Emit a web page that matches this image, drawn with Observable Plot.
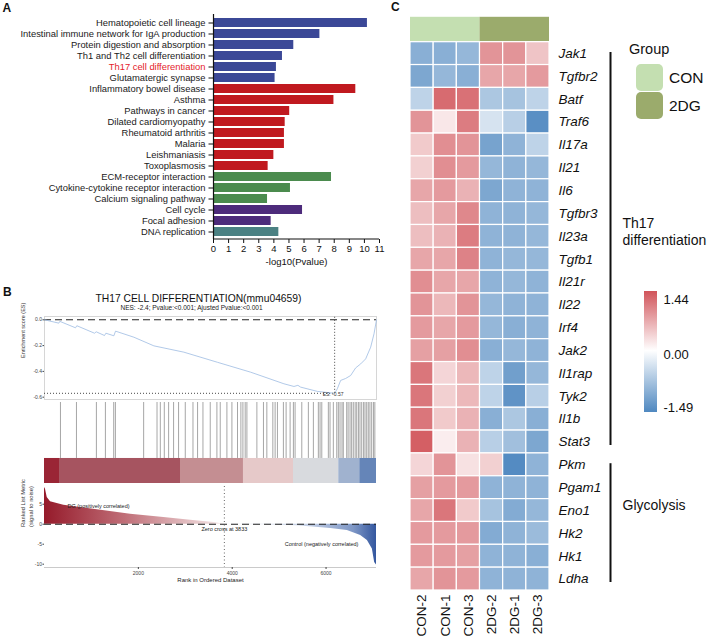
<!DOCTYPE html>
<html><head><meta charset="utf-8">
<script src="https://cdn.jsdelivr.net/npm/d3@7"></script>
<script src="https://cdn.jsdelivr.net/npm/@observablehq/plot@0.6"></script>
<style>
body{margin:0;background:#fff;}
#root{position:relative;width:708px;height:640px;overflow:hidden;background:#fff;font-family:"Liberation Sans",Arial,sans-serif;color:#111;}
</style></head><body><div id="root"></div>
<script>
// ================= DATA =================
// Panel A: KEGG enrichment
const pathways = ["Hematopoietic cell lineage","Intestinal immune network for IgA production","Protein digestion and absorption","Th1 and Th2 cell differentiation","Th17 cell differentiation","Glutamatergic synapse","Inflammatory bowel disease","Asthma","Pathways in cancer","Dilated cardiomyopathy","Rheumatoid arthritis","Malaria","Leishmaniasis","Toxoplasmosis","ECM-receptor interaction","Cytokine-cytokine receptor interaction","Calcium signaling pathway","Cell cycle","Focal adhesion","DNA replication"];
const pathwayLogP = [10.2,7.05,5.32,4.57,4.17,4.08,9.43,7.98,5.05,4.75,4.7,4.7,4.0,3.62,7.82,5.1,3.58,5.9,3.82,4.33];
const pathwayClass = ["c1","c1","c1","c1","c1","c1","c2","c2","c2","c2","c2","c2","c2","c2","c3","c3","c3","c4","c4","c5"];
const classNames = ["c1","c2","c3","c4","c5"];
const classColors = ["#3b4897","#c0191f","#4b8b4e","#4d2b7b","#4b8183"];
const highlightPathway = "Th17 cell differentiation";
const ticksA = [0,1,2,3,4,5,6,7,8,9,10,11];

// Panel B: GSEA
const gseaTitle = "TH17 CELL DIFFERENTIATION(mmu04659)";
const gseaSubtitle = "NES: -2.4; Pvalue:<0.001; Ajusted Pvalue:<0.001";
const nRanks = 7075;
const esRank  = [0,305,326,661,689,1066,1102,1279,1308,1478,1514,1905,2331,2970,3682,4392,5102,5316,5400,5458,5814,6183,6240,6311,6418,6524,6631,6738,6844,6951,7022,7075];
const esValue = [0,-0.026,-0.012,-0.062,-0.046,-0.104,-0.093,-0.122,-0.104,-0.124,-0.088,-0.135,-0.202,-0.251,-0.329,-0.406,-0.496,-0.517,-0.508,-0.522,-0.555,-0.57,-0.535,-0.47,-0.455,-0.432,-0.373,-0.342,-0.303,-0.212,-0.109,0];
const esMin = -0.57, esMinRank = 6183;
const esTicks = [0,-0.2,-0.4,-0.6];
const hitRanks = [340,681,1106,1298,1475,1511,2113,2398,2468,2553,2645,2751,2857,3000,3164,3262,3377,3532,3674,3745,3887,3994,4113,4185,4228,4277,4313,4526,4666,4738,4866,4915,4964,5091,5149,5234,5304,5340,5483,5623,5730,5836,5872,5909,6049,6085,6155,6228,6262,6298,6340,6368,6440,6470,6511,6545,6581,6620,6653,6690,6723,6760,6800,6830,6866,6900,6935,6972,7010,7040];
const bandStart = [0,320,2898,4240,5306,6271,6719];
const bandEnd   = [320,2898,4240,5306,6271,6719,7075];
const bandColors = ["#9a2535","#a65460","#c48e92","#e6c9c9","#d8dade","#a0b2cf","#6585b8"];
const metricRank  = [0,21,58,128,411,768,1124,1834,2543,3113,3610,3833,4676,5388,6098,6454,6738,6881,6987,7036,7075];
const metricValue = [9.2,8.75,6.7,5.6,4.75,4.2,3.6,2.5,1.7,1.0,0.4,0,-0.15,-0.4,-1.1,-1.6,-2.8,-4.1,-6.2,-9.6,-10.2];
const zeroCross = 3833;
const rankTicks = [2000,4000,6000];
const metricTicks = [5,0,-5,-10];

// Panel C: heatmap
const samples = ["CON-2","CON-1","CON-3","2DG-2","2DG-1","2DG-3"];
const sampleGroup = ["CON","CON","CON","2DG","2DG","2DG"];
const groupNames = ["CON","2DG"];
const groupColors = ["#c4dfb1","#9bab6c"];
const genes = ["Jak1","Tgfbr2","Batf","Traf6","Il17a","Il21","Il6","Tgfbr3","Il23a","Tgfb1","Il21r","Il22","Irf4","Jak2","Il1rap","Tyk2","Il1b","Stat3","Pkm","Pgam1","Eno1","Hk2","Hk1","Ldha"];
const geneSet = ["Th17\ndifferentiation","Th17\ndifferentiation","Th17\ndifferentiation","Th17\ndifferentiation","Th17\ndifferentiation","Th17\ndifferentiation","Th17\ndifferentiation","Th17\ndifferentiation","Th17\ndifferentiation","Th17\ndifferentiation","Th17\ndifferentiation","Th17\ndifferentiation","Th17\ndifferentiation","Th17\ndifferentiation","Th17\ndifferentiation","Th17\ndifferentiation","Th17\ndifferentiation","Th17\ndifferentiation","Glycolysis","Glycolysis","Glycolysis","Glycolysis","Glycolysis","Glycolysis"];
const expr = [
  [-1.0,-1.0,-0.9, 0.9, 0.9, 0.5],
  [-1.1,-0.9,-1.0, 0.75,0.75,0.85],
  [-0.55,1.25,1.2,-0.7,-0.75,-0.55],
  [0.9, 0.2, 1.1,-0.35,-0.6,-1.4],
  [0.45,0.95,0.9,-1.15,-0.95,-0.55],
  [0.4, 0.95,0.85,-0.9,-0.95,-0.9],
  [0.75,0.85,0.65,-1.1,-0.95,-0.95],
  [0.55,0.75,1.0,-0.95,-0.95,-0.9],
  [0.55,0.65,1.1,-0.95,-0.95,-0.9],
  [0.75,0.75,1.05,-0.95,-0.9,-0.9],
  [0.95,0.75,0.75,-0.95,-0.9,-0.95],
  [0.9, 0.6, 0.9,-0.9,-0.95,-0.95],
  [0.85,0.75,0.85,-0.9,-1.0,-0.95],
  [0.8, 0.8, 0.95,-1.0,-0.9,-0.95],
  [1.15,0.35,0.6,-0.55,-1.2,-0.9],
  [1.15,0.4, 0.6,-0.55,-1.35,-0.6],
  [1.15,0.45,0.65,-1.0,-0.7,-1.0],
  [1.35,0.15,0.65,-0.6,-0.8,-1.1],
  [0.35,0.9, 0.25,0.4,-1.45,-0.95],
  [0.8, 0.85,0.85,-0.95,-0.95,-0.95],
  [0.75,1.15,0.45,-0.75,-1.05,-0.9],
  [0.85,0.85,0.85,-1.05,-0.95,-0.85],
  [0.85,0.85,0.8,-0.95,-0.95,-1.0],
  [0.75,0.9, 0.85,-0.95,-0.95,-0.95]
];
const colorDomain = [-1.49, 0, 1.44];
const colorRange = ["#4f88c0","#ffffff","#d1545a"];
const legendLabels = ["1.44","0.00","-1.49"];

// ================= HELPERS =================
const FONT = '"Liberation Sans", Arial, Helvetica, sans-serif';
const NS = "http://www.w3.org/2000/svg";
const root = document.getElementById("root");
function el(tag, attrs, text) {
  const e = document.createElementNS(NS, tag);
  for (const k in attrs) e.setAttribute(k, attrs[k]);
  if (text != null) e.textContent = text;
  return e;
}
function place(node, left, top) {
  node.style.position = "absolute"; node.style.left = left + "px"; node.style.top = top + "px";
  root.appendChild(node);
}
function label(text, left, top, css) {
  const d = document.createElement("div");
  d.textContent = text;
  d.style.cssText = `position:absolute;left:${left}px;top:${top}px;white-space:nowrap;line-height:1;font-family:${FONT};` + css;
  root.appendChild(d);
}
const baseStyle = {fontFamily: FONT, background: "transparent", overflow: "visible", color: "#111"};

// ================= PANEL A =================
const aData = pathways.map((name, i) => ({name, v: pathwayLogP[i], fill: classColors[classNames.indexOf(pathwayClass[i])]}));
const plotA = Plot.plot({
  width: 390, height: 270, marginLeft: 213, marginRight: 11, marginTop: 14, marginBottom: 31,
  style: baseStyle,
  x: {domain: [0, 11]},
  y: {domain: pathways, range: [17.6, 235.3], paddingInner: 0.22, paddingOuter: 0},
  color: {type: "identity"},
  marks: [
    Plot.barX(aData, {x: "v", y: "name", fill: "fill"}),
    Plot.ruleX([0], {stroke: "#111", strokeWidth: 1.2}),
    Plot.axisY({tickSize: 4.5, tickFormat: () => "", label: null, strokeWidth: 1}),
    Plot.text(aData, {x: 0, y: "name", text: "name", dx: -8, textAnchor: "end", fontSize: 9.4,
      fill: d => d.name === highlightPathway ? "#e4222b" : "#1a1a1a"}),
    Plot.axisX({ticks: ticksA, tickSize: 4, tickPadding: 2, fontSize: 9.5, label: null, tickFormat: d => String(d), strokeWidth: 1}),
    (index, scales, values, dims) => el("line", {x1: dims.marginLeft, x2: dims.width - dims.marginRight,
      y1: dims.height - dims.marginBottom, y2: dims.height - dims.marginBottom, stroke: "#111", "stroke-width": 1.2}),
    Plot.text(["-log10(Pvalue)"], {frameAnchor: "bottom", dy: 25, fontSize: 9.5})
  ]
});
place(plotA, 0, 0);

// ================= PANEL B =================
label(gseaTitle, 0, 294.3, "width:397px;text-align:center;font-size:10.3px;color:#111;");
label(gseaSubtitle, 0, 304.5, "width:383px;text-align:center;font-size:6.5px;color:#222;");

const esData = esRank.map((r, i) => ({r, es: esValue[i]}));
const plotES = Plot.plot({
  width: 390, height: 95, marginLeft: 44, marginRight: 14, marginTop: 6, marginBottom: 6,
  style: baseStyle,
  x: {domain: [0, nRanks], axis: null},
  y: {domain: [-0.618, 0.0256]},
  marks: [
    Plot.frame({stroke: "#d6d6d6"}),
    Plot.ruleY([0], {stroke: "#222", strokeWidth: 1.1, strokeDasharray: "7,4"}),
    Plot.ruleX([esMinRank], {y1: esMin, y2: 0.0256, stroke: "#333", strokeWidth: 0.9, strokeDasharray: "1,2"}),
    Plot.ruleY([esMin], {x1: 0, x2: esMinRank, stroke: "#333", strokeWidth: 0.9, strokeDasharray: "1,2"}),
    Plot.line(esData, {x: "r", y: "es", stroke: "#9dbbe2", strokeWidth: 0.8}),
    Plot.text([`ES: ${esMin}`], {x: esMinRank, y: esMin, dx: -12, dy: 1.5, textAnchor: "start", fontSize: 5, fill: "#333"}),
    Plot.axisY({ticks: esTicks, tickFormat: d => d.toFixed(1), tickSize: 1.5, tickPadding: 1, fontSize: 5, label: null, color: "#444"}),
    Plot.text(["Enrichment score (ES)"], {frameAnchor: "left", dx: -21, rotate: -90, fontSize: 5.5, fill: "#333"})
  ]
});
place(plotES, 0, 310);

const bands = bandStart.map((a, i) => ({a, b: bandEnd[i], c: bandColors[i]}));
const plotHits = Plot.plot({
  width: 390, height: 86, marginLeft: 44, marginRight: 14, marginTop: 2, marginBottom: 3,
  style: baseStyle,
  x: {domain: [0, nRanks], axis: null},
  y: {domain: [0, 1], axis: null},
  color: {type: "identity"},
  marks: [
    Plot.rect(bands, {x1: "a", x2: "b", y1: 0, y2: 0.309, fill: "c"}),
    Plot.ruleX(hitRanks, {x: d => d, y1: 0.309, y2: 1, stroke: "#8f8f8f", strokeWidth: 0.8})
  ]
});
place(plotHits, 0, 400);

const metric = metricRank.map((r, i) => ({r, m: metricValue[i]}));
const posPart = metric.filter(d => d.r <= zeroCross);
const negPart = metric.filter(d => d.r >= zeroCross);
const gradDefs = () => {
  const defs = el("defs", {});
  const g1 = el("linearGradient", {id: "gRed", x1: 0, y1: 0, x2: 1, y2: 0});
  [[0, "#951a2a"], [0.45, "#c06f78"], [1, "#f6eaea"]].forEach(([o, c]) => g1.append(el("stop", {offset: o, "stop-color": c})));
  const g2 = el("linearGradient", {id: "gBlue", x1: 0, y1: 0, x2: 1, y2: 0});
  [[0, "#f3f5fa"], [0.55, "#c3cfe5"], [0.85, "#7e97c6"], [1, "#34579f"]].forEach(([o, c]) => g2.append(el("stop", {offset: o, "stop-color": c})));
  defs.append(g1, g2);
  return defs;
};
const plotRank = Plot.plot({
  width: 390, height: 100, marginLeft: 44, marginRight: 14, marginTop: 2, marginBottom: 17,
  style: baseStyle,
  x: {domain: [0, nRanks]},
  y: {domain: [-10.83, 9.43]},
  marks: [
    gradDefs,
    Plot.areaY(posPart, {x: "r", y: "m", fill: "url(#gRed)"}),
    Plot.areaY(negPart, {x: "r", y: "m", fill: "url(#gBlue)"}),
    Plot.ruleY([0], {stroke: "#222", strokeWidth: 1.1, strokeDasharray: "7,4"}),
    Plot.ruleX([zeroCross], {stroke: "#555", strokeWidth: 0.9, strokeDasharray: "1,2.5"}),
    Plot.ruleY([-10.83], {stroke: "#bdbdbd", strokeWidth: 0.8}),
    Plot.text(["DG (positively correlated)"], {x: 490, y: 4.4, textAnchor: "start", fontSize: 5.5, fill: "#222"}),
    Plot.text([`Zero cross at ${zeroCross}`], {x: zeroCross, y: 0, dy: 5, fontSize: 5.5, fill: "#222"}),
    Plot.text(["Control (negatively correlated)"], {x: 6690, y: -5.1, textAnchor: "end", fontSize: 5.5, fill: "#222"}),
    Plot.axisX({ticks: rankTicks, tickSize: 2, tickPadding: 1.5, fontSize: 5, label: null, tickFormat: d => String(d), color: "#444"}),
    Plot.axisY({ticks: metricTicks, tickSize: 1.5, tickPadding: 1, fontSize: 5, label: null, tickFormat: d => String(d), color: "#444"}),
    Plot.text(["Rank in Ordered Dataset"], {frameAnchor: "bottom", dy: 14, fontSize: 6, fill: "#222"}),
    Plot.text(["Ranked List Metric\n(signal to noise)"], {frameAnchor: "left", dx: -18, rotate: -90, fontSize: 5.8, lineHeight: 1.35, fill: "#333"})
  ]
});
place(plotRank, 0, 484);

// ================= PANEL C =================
const cells = [];
genes.forEach((g, ri) => samples.forEach((s, ci) => cells.push({g, s, ri, ci, v: expr[ri][ci]})));
const groupSpans = groupNames.map((name, k) => {
  const idx = sampleGroup.map((g, i) => g === name ? i : -1).filter(i => i >= 0);
  return {name, start: d3.min(idx), end: d3.max(idx) + 1, fill: groupColors[k]};
});
const setSpans = [];
geneSet.forEach((s, i) => {
  const last = setSpans[setSpans.length - 1];
  if (last && last.name === s) last.end = i + 1; else setSpans.push({name: s, start: i, end: i + 1});
});
const legendMark = (index, scales, values, dims) => {
  const g = el("g", {"font-family": FONT, fill: "#111", "text-anchor": "start"});
  g.append(el("text", {x: 229, y: 54, "font-size": 14.5}, "Group"));
  groupSpans.forEach((gs, k) => {
    g.append(el("rect", {x: 236, y: 64 + k * 28, width: 27, height: 27, rx: 5, fill: gs.fill}));
    g.append(el("text", {x: 269, y: 77.5 + k * 28, "font-size": 15.5, "dominant-baseline": "central"}, gs.name));
  });
  const defs = el("defs", {});
  const lg = el("linearGradient", {id: "hmGrad", x1: 0, y1: 0, x2: 0, y2: 1});
  const top = colorDomain[2], bot = colorDomain[0];
  [top, 0, bot].forEach(v => lg.append(el("stop", {offset: (top - v) / (top - bot), "stop-color": scales.color(v)})));
  defs.append(lg);
  g.append(defs);
  g.append(el("rect", {x: 244, y: 291, width: 13, height: 121, fill: "url(#hmGrad)"}));
  [[legendLabels[0], 299], [legendLabels[1], 354], [legendLabels[2], 407]].forEach(([t, y]) =>
    g.append(el("text", {x: 263.5, y, "font-size": 13, "dominant-baseline": "central"}, t)));
  return g;
};
const plotC = Plot.plot({
  width: 308, height: 640, margin: 0,
  style: baseStyle,
  x: {domain: [0, 6], range: [10, 149], axis: null},
  y: {domain: [0, 24], range: [41.7, 590], axis: null},
  color: {type: "linear", domain: colorDomain, range: colorRange, interpolate: "rgb"},
  marks: [
    groupSpans.map(gs => Plot.rect([gs], {x1: "start", x2: "end", y1: -1.09, y2: -0.03, fill: gs.fill})),
    Plot.rect(cells, {x1: "ci", x2: d => d.ci + 1, y1: "ri", y2: d => d.ri + 1, fill: "v", stroke: "#ffffff", strokeWidth: 1.2}),
    Plot.text(genes, {x: 6, y: (d, i) => i + 0.5, text: d => d, dx: 9, textAnchor: "start", fontStyle: "italic", fontSize: 13.5, fill: "#111"}),
    Plot.text(samples, {x: (d, i) => i + 0.5, y: 24, text: d => d, dy: 4, rotate: -90, textAnchor: "end", fontSize: 13.5, fill: "#111"}),
    Plot.ruleX(setSpans, {x: 6, dx: 61, y1: d => d.start + 0.45, y2: d => d.end - 0.35, stroke: "#111", strokeWidth: 2}),
    Plot.text(setSpans, {x: 6, dx: 73, y: d => (d.start + d.end) / 2 - 0.75, text: "name", textAnchor: "start", fontSize: 14, lineHeight: 1.25, fill: "#111"}),
    legendMark
  ]
});
place(plotC, 400, 0);

// Panel letters
label("A", 2.5, 1.5, "font-size:12px;font-weight:bold;");
label("B", 3, 285.8, "font-size:12px;font-weight:bold;");
label("C", 391, 0.8, "font-size:12px;font-weight:bold;");
</script></body></html>
